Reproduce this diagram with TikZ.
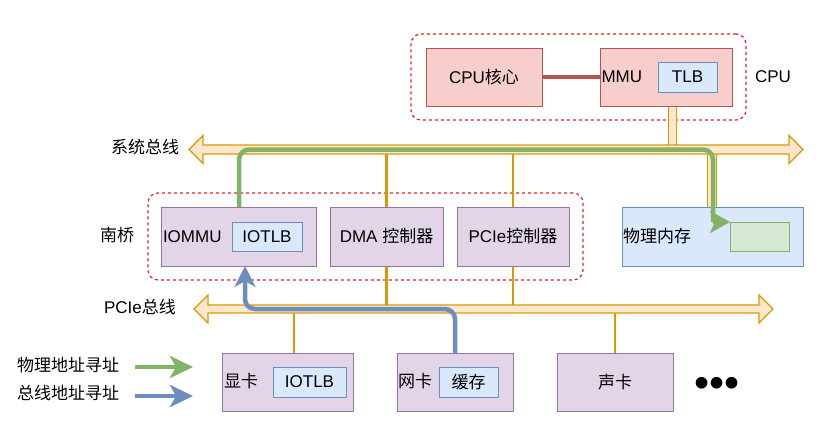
\documentclass[tikz,border=0pt]{standalone}
\usepackage{fontspec}
\setmainfont{Liberation Sans}
\newfontfamily\cjk{Noto Sans CJK SC}
\usetikzlibrary{arrows.meta}
\pgfdeclarelayer{bg}
\pgfdeclarelayer{buslayer}
\pgfsetlayers{bg,buslayer,main}
\definecolor{redfill}{HTML}{F8CECC}
\definecolor{redline}{HTML}{B85450}
\definecolor{purfill}{HTML}{E1D5E7}
\definecolor{purline}{HTML}{9673A6}
\definecolor{bluefill}{HTML}{DAE8FC}
\definecolor{blueline}{HTML}{6C8EBF}
\definecolor{grnfill}{HTML}{D5E8D4}
\definecolor{grnline}{HTML}{82B366}
\definecolor{busfill}{HTML}{FFE6CC}
\definecolor{busline}{HTML}{D79B00}
\definecolor{dashred}{HTML}{E02424}
\tikzset{
  every node/.style={font=\fontsize{17}{20}\selectfont, text=black},
  boxbase/.style={rectangle, inner sep=0pt, outer sep=0pt, line width=1pt, anchor=north west},
  redbox/.style={boxbase, draw=redline, fill=redfill},
  purbox/.style={boxbase, draw=purline, fill=purfill},
  bluebox/.style={boxbase, draw=blueline, fill=bluefill},
  grnbox/.style={boxbase, draw=grnline, fill=grnfill},
  grp/.style={boxbase, draw=dashred, line width=1.2pt, dash pattern=on 3pt off 3pt, rounded corners=10pt},
  lbl/.style={inner sep=0pt, outer sep=0pt},
  busshape/.style={draw=busline, fill=busfill, line width=1.3pt, line join=miter},
  thinstub/.style={draw=busline, line width=2.1pt},
  widestub/.style={draw=busline, double=busfill, double distance=7.5pt, line width=1.2pt},
  gpath/.style={draw=grnline, line width=4.5pt},
  bpath/.style={draw=blueline, line width=4.5pt},
}
\newcommand{\drawbus}[4]{% xL, xR, yc, half shaft
  \draw[busshape] (#1,#3) -- (#1+14,#3-14) -- (#1+14,#3-#4) -- (#2-14,#3-#4) -- (#2-14,#3-14)
    -- (#2,#3) -- (#2-14,#3+14) -- (#2-14,#3+#4) -- (#1+14,#3+#4) -- (#1+14,#3+14) -- cycle;}
\begin{document}
\begin{tikzpicture}[x=1pt,y=-1pt]
\useasboundingbox (0,0) rectangle (819,426);

% helper coordinates
\coordinate (sbT) at (0,145);
\coordinate (sbB) at (0,154);
\coordinate (sbC) at (0,149.5);
\coordinate (pbT) at (0,305);
\coordinate (pbB) at (0,313);
\coordinate (pbC) at (0,309);

% CPU
\node[redbox, minimum width=116pt, minimum height=58pt] (core) at (426,48) {CPU{\cjk 核心}};
\node[redbox, minimum width=132pt, minimum height=58pt] (mmu) at (600,48) {};
\node[lbl, anchor=west] (mmutxt) at (601.5,77) {MMU};
\node[bluebox, minimum width=59pt, minimum height=30pt] (tlb) at (658,62) {TLB};
\node[lbl] (cputxt) at (773,77) {CPU};
\draw[line width=4pt, redline] (core.east) -- (mmu.west);

% bus labels
\node[lbl] (sysbustxt) at (145,147) {\cjk 系统总线};
\node[lbl] (pcibustxt) at (140,307) {PCIe{\cjk 总线}};

% south bridge
\node[lbl] (sbtxt) at (117,235) {\cjk 南桥};
\node[purbox, minimum width=155pt, minimum height=59pt] (iommu) at (161,207) {};
\node[lbl, anchor=west] (iommutxt) at (163,237) {IOMMU};
\node[bluebox, minimum width=70pt, minimum height=29pt] (iotlb) at (232,222) {IOTLB};
\node[purbox, minimum width=113pt, minimum height=59pt] (dma) at (330,207) {DMA {\cjk 控制器}};
\node[purbox, minimum width=112pt, minimum height=59pt] (pcic) at (457,207) {PCIe{\cjk 控制器}};

% memory
\node[bluebox, minimum width=181pt, minimum height=59pt] (mem) at (622,207) {};
\node[lbl, anchor=west] (memtxt) at (623,236) {\cjk 物理内存};
\node[grnbox, minimum width=59pt, minimum height=29pt] (meminner) at (730,222) {};

% devices
\node[purbox, minimum width=131pt, minimum height=58pt] (gpu) at (222,353) {};
\node[lbl, anchor=west] (gputxt) at (224,381) {\cjk 显卡};
\node[bluebox, minimum width=73pt, minimum height=30pt] (gputlb) at (273,367) {IOTLB};
\node[purbox, minimum width=116pt, minimum height=58pt] (nic) at (397,353) {};
\node[lbl, anchor=west] (nictxt) at (398,381) {\cjk 网卡};
\node[bluebox, minimum width=59pt, minimum height=30pt] (niccache) at (439,367) {\cjk 缓存};
\node[purbox, minimum width=116pt, minimum height=58pt] (snd) at (557,353) {\cjk 声卡};
\node[lbl, anchor=base, font=\fontsize{43}{43}\selectfont] (more) at (717,397) {•••};

% legend
\node[lbl] (leg1) at (68,365) {\cjk 物理地址寻址};
\node[lbl] (leg2) at (68,393) {\cjk 总线地址寻址};
\coordinate (g0) at (135,367);
\coordinate (g1) at (193,367);
\coordinate (b0) at (135,396);
\coordinate (b1) at (193,396);
\draw[gpath, line width=4pt, -{Stealth[length=23pt,width=22pt,inset=6pt]}] (g0) -- (g1);
\draw[bpath, line width=4pt, -{Stealth[length=23pt,width=22pt,inset=6pt]}] (b0) -- (b1);

% background: groups and stubs
\begin{pgfonlayer}{bg}
\node[grp, minimum width=335pt, minimum height=86pt] (cpugrp) at (411,34) {};
\node[grp, minimum width=435pt, minimum height=87pt] (sbgrp) at (148,193) {};
\draw[thinstub] (dma.north) -- (dma.north |- sbC);
\draw[thinstub] (dma.south) -- (dma.south |- pbC);
\draw[thinstub] (pcic.north) -- (pcic.north |- sbC);
\draw[thinstub] (pcic.south) -- (pcic.south |- pbC);
\coordinate (gpux) at (294,0);
\draw[thinstub] (gpu.north -| gpux) -- (gpux |- pbC);
\draw[thinstub] (snd.north) -- (snd.north |- pbC);
\coordinate (mmux) at (672.5,0);
\coordinate (memx) at (712,0);
\draw[widestub] (mmu.south -| mmux) -- (mmux |- sbT);
\draw[widestub] (mem.north -| memx) -- (memx |- sbB);
\end{pgfonlayer}

% buses
\begin{pgfonlayer}{buslayer}
\drawbus{189}{803}{149.5}{4.5}
\drawbus{194}{773}{309}{4}
\end{pgfonlayer}

% green path: physical addressing
\coordinate (gS) at ([xshift=78pt]iommu.north west);
\coordinate (gx) at (713,0);
\draw[gpath, rounded corners=10pt] (gS) -- (gS |- sbC) -- (gx |- sbC) -- (gx |- meminner.north);
\draw[gpath, -{Stealth[length=20pt,width=22pt,inset=5pt]}] (gx |- meminner.north) -- (meminner.north west);

% blue path: bus addressing
\coordinate (bx) at (245,0);
\draw[bpath, rounded corners=10pt, -{Stealth[length=21pt,width=21pt,inset=6pt]}]
  (nic.north) -- (nic.north |- pbC) -- (bx |- pbC) -- (bx |- iommu.south);
\end{tikzpicture}
\end{document}
